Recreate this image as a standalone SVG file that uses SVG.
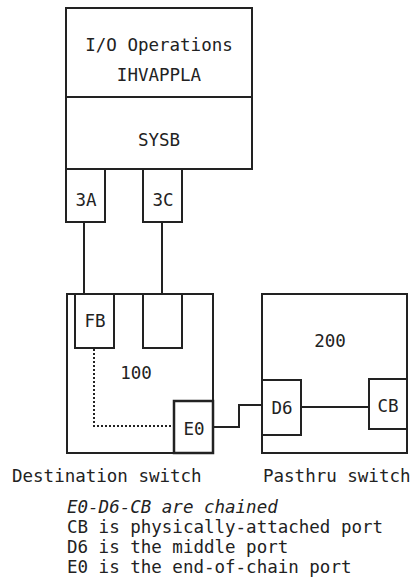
<svg xmlns="http://www.w3.org/2000/svg" width="412" height="577" viewBox="0 0 412 577">
<style>
.b{fill:#fff;stroke:#222;stroke-width:2}
.c{fill:none;stroke:#222;stroke-width:2}
.d{fill:none;stroke:#222;stroke-width:2;stroke-dasharray:2 2}
text{font-family:"DejaVu Sans Mono","Liberation Mono",monospace;font-size:17.5px;fill:#222}
.m{text-anchor:middle}
.i{font-style:italic}
</style>
<rect width="412" height="577" fill="#fff"/>
<g id="io-operations">
<rect class="b" x="66" y="8" width="186" height="89"/>
<text class="m" x="159" y="51">I/O Operations</text>
<text class="m" x="159" y="81">IHVAPPLA</text>
</g>
<g id="sysb">
<rect class="b" x="66" y="97" width="186" height="72"/>
<text class="m" x="159" y="146">SYSB</text>
</g>
<g id="port-3A">
<rect class="b" x="66" y="169" width="39" height="53"/>
<text class="m" x="86" y="206">3A</text>
</g>
<g id="port-3C">
<rect class="b" x="143" y="169" width="39" height="53"/>
<text class="m" x="163" y="206">3C</text>
</g>
<g id="switch-100">
<rect class="b" x="67" y="294" width="146" height="159"/>
<text class="m" x="136" y="379">100</text>
</g>
<g id="port-FB">
<rect class="b" x="75" y="294" width="39" height="54"/>
<text class="m" x="95" y="327">FB</text>
</g>
<g id="port-empty">
<rect class="b" x="143" y="294" width="39" height="54"/>
</g>
<g id="port-E0">
<rect class="b" x="174" y="401" width="39" height="52" style="stroke-width:2.5"/>
<text class="m" x="194" y="435">E0</text>
</g>
<g id="switch-200">
<rect class="b" x="262" y="294" width="145" height="159"/>
<text class="m" x="330" y="347">200</text>
</g>
<g id="port-D6">
<rect class="b" x="262" y="380" width="39" height="55"/>
<text class="m" x="282" y="414">D6</text>
</g>
<g id="port-CB">
<rect class="b" x="369" y="379" width="38" height="50"/>
<text class="m" x="388" y="412">CB</text>
</g>
<g id="connectors">
<line class="c" x1="84" y1="222" x2="84" y2="294"/>
<line class="c" x1="162" y1="222" x2="162" y2="294"/>
<polyline class="d" points="94,349 94,426 173,426"/>
<polyline class="c" points="214,427 239,427 239,405 261,405"/>
<line class="c" x1="302" y1="407" x2="368" y2="407"/>
</g>
<g id="labels">
<text x="12" y="482">Destination switch</text>
<text x="263" y="482">Pasthru switch</text>
<text class="i" x="67" y="513">E0-D6-CB are chained</text>
<text x="67" y="533">CB is physically-attached port</text>
<text x="67" y="553">D6 is the middle port</text>
<text x="67" y="573">E0 is the end-of-chain port</text>
</g>
</svg>
